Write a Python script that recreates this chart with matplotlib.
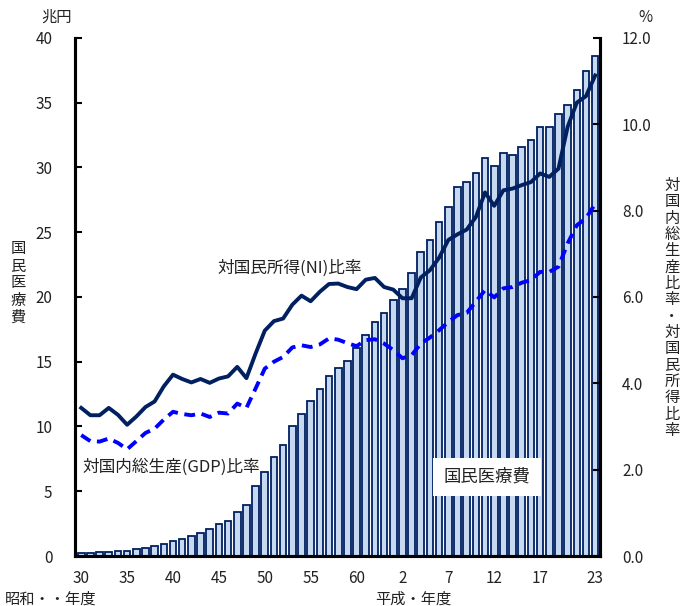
import matplotlib
matplotlib.use("Agg")
import matplotlib.pyplot as plt
import numpy as np

plt.rcParams['font.family'] = ['Noto Sans CJK JP', 'DejaVu Sans']

# 昭和30年度 ～ 平成23年度
years = list(range(30, 64)) + list(range(1, 24))

# 国民医療費 (兆円)
cost = [0.24, 0.26, 0.29, 0.32, 0.36, 0.41, 0.51, 0.61, 0.75, 0.94,
        1.12, 1.30, 1.51, 1.80, 2.08, 2.50, 2.73, 3.40, 3.95, 5.38,
        6.48, 7.67, 8.57, 10.00, 10.95, 11.98, 12.87, 13.87, 14.54, 15.09,
        16.02, 17.07, 18.08, 18.76,
        19.73, 20.61, 21.83, 23.48, 24.36, 25.79, 26.96, 28.45, 28.91, 29.58,
        30.70, 30.14, 31.12, 30.95, 31.54, 32.11, 33.13, 33.13, 34.14, 34.81,
        36.01, 37.42, 38.59]

# 対国民所得比率 (%)
ni_ratio = [3.43, 3.26, 3.26, 3.43, 3.27, 3.04, 3.23, 3.45, 3.58, 3.93,
            4.20, 4.10, 4.02, 4.10, 4.01, 4.11, 4.16, 4.38, 4.12, 4.69,
            5.22, 5.44, 5.50, 5.82, 6.03, 5.90, 6.12, 6.30, 6.31, 6.23,
            6.18, 6.40, 6.44, 6.23,
            6.17, 5.97, 5.97, 6.45, 6.62, 6.91, 7.32, 7.45, 7.56, 7.85,
            8.42, 8.11, 8.47, 8.51, 8.59, 8.66, 8.86, 8.78, 8.97, 9.94,
            10.50, 10.65, 11.13]

# 対国内総生産比率 (%)
gdp_ratio = [2.80, 2.66, 2.65, 2.72, 2.62, 2.47, 2.66, 2.85, 2.95, 3.16,
             3.34, 3.29, 3.26, 3.30, 3.22, 3.32, 3.30, 3.53, 3.43, 3.88,
             4.34, 4.50, 4.61, 4.83, 4.88, 4.84, 4.90, 5.04, 5.01, 4.93,
             4.86, 5.00, 5.02, 4.92,
             4.77, 4.58, 4.65, 4.92, 5.06, 5.23, 5.42, 5.58, 5.63, 5.89,
             6.16, 5.99, 6.20, 6.23, 6.33, 6.39, 6.58, 6.58, 6.70, 7.24,
             7.66, 7.82, 8.16]

tick_idx = [0, 5, 10, 15, 20, 25, 30, 35, 40, 45, 50, 56]
tick_labels = [str(years[i]) for i in tick_idx]

navy = '#002060'
x = np.arange(len(years))

fig = plt.figure(figsize=(6.8, 6.06), dpi=100)
ax = fig.add_axes([0.110, 0.0825, 0.772, 0.855])

ax.bar(x, cost, width=0.72, color='#C6D9F0', edgecolor=navy, linewidth=1.3, zorder=2)
ax.set_xlim(-0.7, 56.5)
ax.set_ylim(0, 40)
ax.set_yticks(range(0, 41, 5))
ax.set_xticks(tick_idx)
ax.set_xticklabels(tick_labels)
ax.tick_params(axis='x', length=0, pad=10, labelsize=11, colors='#222')
ax.tick_params(axis='y', direction='in', length=5, width=1.5, pad=16,
               labelsize=11, colors='#222')
ax.tick_params(axis='y', color='black')

ax2 = ax.twinx()
ax2.plot(x, ni_ratio, color=navy, lw=2.8, solid_joinstyle='round', zorder=4)
ax2.plot(x, gdp_ratio, color='#0000FF', lw=2.8, linestyle=(0, (2.8, 1.7)), zorder=4)
ax2.set_ylim(0, 12)
ax2.set_yticks(np.arange(0, 12.1, 2))
ax2.set_yticklabels([f'{v:.1f}' for v in np.arange(0, 12.1, 2)])
ax2.tick_params(axis='y', direction='in', length=5, width=1.5, pad=16,
                labelsize=11, colors='#222')
ax2.tick_params(axis='y', color='black')

for a in (ax, ax2):
    a.spines['top'].set_visible(False)
    for s in ('left', 'right', 'bottom'):
        a.spines[s].set_linewidth(2.2)
        a.spines[s].set_color('black')

ax2.text(22.7, 6.67, '対国民所得(NI)比率', fontsize=12, ha='center', va='center', color='#222')
ax2.text(0.15, 2.06, '対国内総生産(GDP)比率', fontsize=12, ha='left', va='center', color='#222')
ax2.text(44.2, 1.83, '国民医療費', fontsize=12.5, ha='center', va='center', color='#222',
         bbox=dict(facecolor='white', edgecolor='none', boxstyle='square,pad=0.6'), zorder=5)

fig.text(57 / 680, 1 - 17 / 606, '兆円', fontsize=11, ha='center', va='center', color='#222')
fig.text(645 / 680, 1 - 17 / 606, '%', fontsize=11, ha='center', va='center', color='#222')
fig.text(18 / 680, 1 - 283 / 606, '\n'.join('国民医療費'), fontsize=11, ha='center',
         va='center', linespacing=1.0, color='#222')
fig.text(672 / 680, 1 - 308 / 606, '\n'.join('対国内総生産比率・対国民所得比率'),
         fontsize=11, ha='center', va='center', linespacing=0.95, color='#222')
fig.text(5 / 680, 1 - 599 / 606, '昭和・・年度', fontsize=11, ha='left', va='center', color='#222')
fig.text(375 / 680, 1 - 599 / 606, '平成・年度', fontsize=11, ha='left', va='center', color='#222')

fig.savefig('out.png', dpi=100)
